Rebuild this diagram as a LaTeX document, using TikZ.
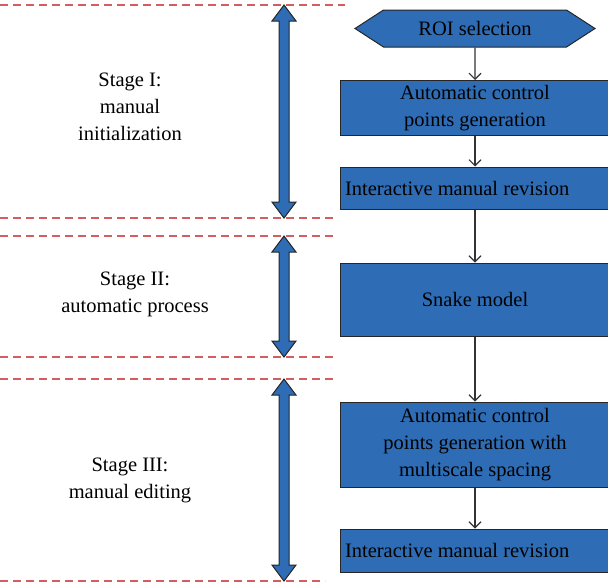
\documentclass[tikz,border=0pt]{standalone}
\usepackage{fontspec}
\setmainfont{Liberation Serif}
\usetikzlibrary{positioning, arrows.meta, shapes.symbols}

\definecolor{boxblue}{HTML}{2E6DB5}
\definecolor{dashred}{HTML}{D25F5F}

\begin{document}
\begin{tikzpicture}[
    x=1pt, y=-1pt,
    font=\fontsize{20.5}{27}\selectfont,
    stepbox/.style={rectangle, draw=black!85, fill=boxblue, line width=1pt, minimum width=270pt, align=center, inner sep=4pt},
    leftbox/.style={stepbox, text width=260pt, align=flush left, inner xsep=5pt},
    roibox/.style={signal, signal to=west and east, signal pointer angle=66, draw=black!85, fill=boxblue, line width=1pt, minimum width=240pt, minimum height=37pt, inner sep=2pt},
    stagetext/.style={align=center},
    flow/.style={-{Straight Barb[length=6pt, width=12pt]}, draw=black!80, line width=1.1pt},
    limit/.style={dashed, dash pattern=on 8pt off 5pt, draw=dashred, line width=1.1pt}
]
    \useasboundingbox (0,0) rectangle (608,587);

    % Stage limits
    \foreach \y/\len in {5/345, 218/337, 236/337, 357/337, 379/337, 581/325}
        \draw[limit] (0,\y) -- (\len,\y);

    % Stage arrows
    \foreach \ya/\yb in {5/218, 236/357, 379/581}
        \draw[draw=black!85, fill=boxblue, line width=1pt, line join=miter]
            (284,\ya) -- (296,\ya+16) -- (289,\ya+16) -- (289,\yb-16) -- (296,\yb-16)
            -- (284,\yb) -- (272,\yb-16) -- (279,\yb-16) -- (279,\ya+16) -- (272,\ya+16) -- cycle;

    % Stage labels
    \node[stagetext] (stageone) at (130,107) {Stage I:\\manual\\initialization};
    \node[stagetext] (stagetwo) at (135,294) {Stage II:\\automatic process};
    \node[stagetext] (stagethree) at (130,480) {Stage III:\\manual editing};

    % Steps
    \node[roibox] (roi) at (475,28.5) {ROI selection};
    \node[stepbox, minimum height=55pt] (acp) at (475,108) {Automatic control\\points generation};
    \node[leftbox, minimum height=42pt] (imr) at (475,188) {Interactive manual revision};
    \node[stepbox, minimum height=73pt] (snake) at (475,299.5) {Snake model};
    \node[stepbox, minimum height=85pt] (acpms) at (475,444.5) {Automatic control\\points generation with\\multiscale spacing};
    \node[leftbox, minimum height=43pt] (imrtwo) at (475,550.5) {Interactive manual revision};

    % Flow
    \draw[flow] (roi) -- (acp);
    \draw[flow] (acp) -- (imr);
    \draw[flow] (imr) -- (snake);
    \draw[flow] (snake) -- (acpms);
    \draw[flow] (acpms) -- (imrtwo);
\end{tikzpicture}
\end{document}
